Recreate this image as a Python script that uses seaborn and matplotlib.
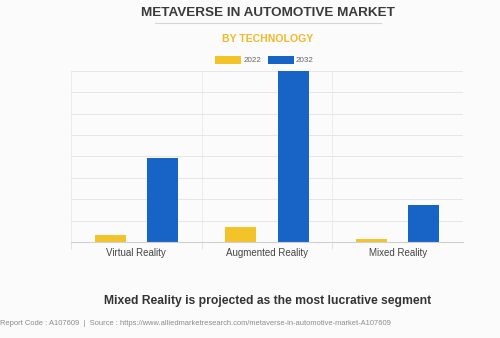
import matplotlib
matplotlib.use("Agg")
import matplotlib.pyplot as plt
from matplotlib.patches import Patch
from matplotlib.lines import Line2D
import seaborn as sns
import pandas as pd

# ---- data (in grid units) ----
technologies = ["Virtual Reality", "Augmented Reality", "Mixed Reality"]
years = ["2022", "2032"]
values_2022 = [0.31, 0.72, 0.14]
values_2032 = [3.91, 8.0, 1.73]
colors = ["#F3C32A", "#1763C6"]

df = pd.DataFrame({
    "technology": technologies * 2,
    "year": [years[0]] * 3 + [years[1]] * 3,
    "value": values_2022 + values_2032,
})

sns.set_theme(style="white")
plt.rcParams["font.family"] = ["Liberation Sans", "DejaVu Sans"]

bg = "#FBFBFB"
fig = plt.figure(figsize=(5, 3.38), dpi=100, facecolor=bg)
ax = fig.add_axes([0.142, 0.284, 0.784, 0.506])
ax.set_facecolor(bg)

sns.barplot(data=df, x="technology", y="value", hue="year",
            palette=colors, width=0.8, gap=0.41, legend=False, ax=ax,
            saturation=1, linewidth=0)

ax.set_ylim(0, 8)
ax.set_xlim(-0.5, 2.5)
ax.set_yticks(range(0, 9))
ax.set_yticklabels([])
ax.tick_params(axis="y", length=0)
ax.grid(axis="y", color="#E6E6E6", linewidth=0.7)
ax.set_axisbelow(True)
for xv in [-0.5, 0.5, 1.5]:
    ax.axvline(xv, color="#ECECEC", linewidth=0.7, zorder=0)
    ax.plot([xv, xv], [0, -0.35], color="#E2E2E2", linewidth=0.7,
            clip_on=False, zorder=0)
for s in ["top", "right", "left"]:
    ax.spines[s].set_visible(False)
ax.spines["bottom"].set_color("#D0D0D0")
ax.spines["bottom"].set_linewidth(0.8)
ax.set_xlabel("")
ax.set_ylabel("")
ax.tick_params(axis="x", length=0, pad=4, labelsize=7, labelcolor="#444444")

# titles
fig.text(0.535, 0.962, "METAVERSE IN AUTOMOTIVE MARKET", ha="center", va="center",
         fontsize=9.7, fontweight="bold", color="#3A3A3A")
fig.add_artist(Line2D([0.31, 0.762], [0.932, 0.932], color="#D5D5D5",
                      linewidth=0.8, transform=fig.transFigure))
fig.text(0.535, 0.884, "BY TECHNOLOGY", ha="center", va="center",
         fontsize=7.6, fontweight="bold", color="#F2B826")

handles = [Patch(facecolor=c, edgecolor="none") for c in colors]
fig.legend(handles, years, loc="center", bbox_to_anchor=(0.529, 0.822), ncol=2,
           frameon=False, fontsize=5.8, handlelength=3.2, handleheight=1.1,
           handletextpad=0.3, columnspacing=0.8, labelcolor="#666666")

fig.text(0.535, 0.109, "Mixed Reality is projected as the most lucrative segment",
         ha="center", va="center", fontsize=8.7, fontweight="bold", color="#333333")
fig.text(0.0, 0.044,
         "Report Code : A107609  |  Source : https://www.alliedmarketresearch.com/metaverse-in-automotive-market-A107609",
         ha="left", va="center", fontsize=5.45, color="#8A8A8A")

fig.savefig("out.png", dpi=100, facecolor=bg)
